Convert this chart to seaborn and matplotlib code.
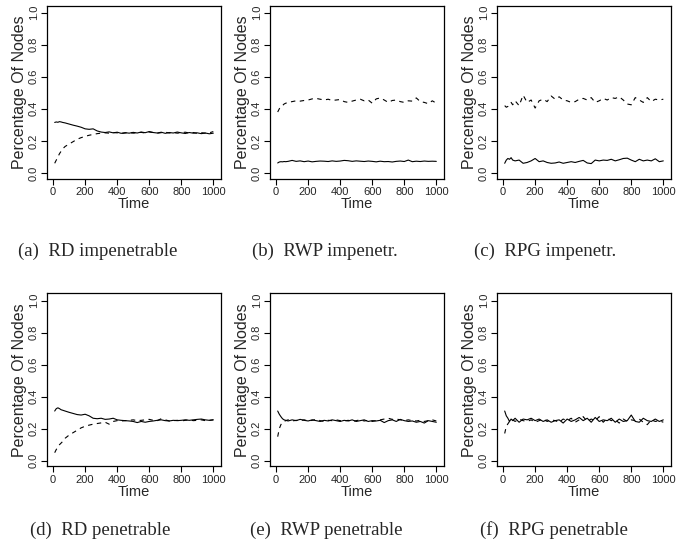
import matplotlib
matplotlib.use("Agg")
import matplotlib.pyplot as plt
import seaborn as sns

sns.set_style("ticks")
plt.rcParams["font.family"] = ["Liberation Sans", "DejaVu Sans"]

# time grid shared by all panels
TIME = [10, 20, 30, 40, 50, 60, 75, 100, 125, 150, 175, 200, 225, 250, 275, 300,
        325, 350, 375, 400, 425, 450, 475, 500, 525, 550, 575, 600, 625, 650, 675,
        700, 725, 750, 775, 800, 825, 850, 875, 900, 925, 950, 975, 1000]

# (a) RD impenetrable
a_solid = [0.315, 0.318, 0.316, 0.320, 0.318, 0.315, 0.312, 0.305, 0.298, 0.292, 0.285,
           0.275, 0.272, 0.275, 0.262, 0.255, 0.252, 0.256, 0.250, 0.254, 0.247, 0.251,
           0.248, 0.253, 0.249, 0.255, 0.251, 0.258, 0.252, 0.249, 0.254, 0.247, 0.252,
           0.249, 0.255, 0.250, 0.246, 0.252, 0.248, 0.250, 0.245, 0.249, 0.244, 0.248]
a_dashed = [0.060, 0.080, 0.100, 0.120, 0.135, 0.150, 0.165, 0.180, 0.195, 0.210, 0.220,
            0.228, 0.235, 0.240, 0.245, 0.248, 0.250, 0.248, 0.252, 0.250, 0.246, 0.249,
            0.252, 0.248, 0.251, 0.253, 0.249, 0.255, 0.252, 0.248, 0.251, 0.254, 0.249,
            0.252, 0.248, 0.251, 0.254, 0.249, 0.252, 0.247, 0.251, 0.248, 0.250, 0.258]

# (b) RWP impenetr.
b_solid = [0.062, 0.068, 0.070, 0.069, 0.071, 0.070, 0.072, 0.078, 0.072, 0.075, 0.070,
           0.074, 0.069, 0.072, 0.074, 0.073, 0.071, 0.075, 0.072, 0.074, 0.078, 0.076,
           0.072, 0.075, 0.073, 0.071, 0.074, 0.072, 0.069, 0.073, 0.070, 0.071, 0.068,
           0.072, 0.074, 0.071, 0.080, 0.070, 0.073, 0.071, 0.074, 0.072, 0.073, 0.072]
b_dashed = [0.380, 0.400, 0.415, 0.420, 0.430, 0.435, 0.440, 0.445, 0.450, 0.448, 0.452,
            0.455, 0.462, 0.465, 0.460, 0.455, 0.460, 0.452, 0.455, 0.458, 0.445, 0.440,
            0.448, 0.455, 0.460, 0.450, 0.455, 0.435, 0.462, 0.468, 0.455, 0.440, 0.452,
            0.455, 0.445, 0.440, 0.450, 0.448, 0.468, 0.445, 0.440, 0.432, 0.450, 0.435]

# (c) RPG impenetr.
c_solid = [0.060, 0.080, 0.090, 0.085, 0.095, 0.080, 0.075, 0.080, 0.060, 0.065, 0.075,
           0.090, 0.070, 0.075, 0.065, 0.060, 0.062, 0.068, 0.060, 0.065, 0.070, 0.065,
           0.072, 0.078, 0.062, 0.058, 0.080, 0.075, 0.080, 0.078, 0.085, 0.075, 0.082,
           0.090, 0.092, 0.080, 0.070, 0.085, 0.075, 0.080, 0.075, 0.088, 0.070, 0.075]
c_dashed = [0.420, 0.410, 0.415, 0.430, 0.440, 0.425, 0.450, 0.420, 0.485, 0.440, 0.455,
            0.405, 0.450, 0.460, 0.445, 0.480, 0.460, 0.475, 0.455, 0.450, 0.440, 0.445,
            0.460, 0.465, 0.455, 0.470, 0.440, 0.450, 0.465, 0.455, 0.470, 0.465, 0.475,
            0.455, 0.430, 0.425, 0.470, 0.455, 0.440, 0.470, 0.445, 0.460, 0.455, 0.460]

# (d) RD penetrable
d_solid = [0.310, 0.325, 0.330, 0.325, 0.318, 0.315, 0.310, 0.302, 0.295, 0.288, 0.285,
           0.290, 0.280, 0.265, 0.262, 0.265, 0.258, 0.260, 0.265, 0.255, 0.252, 0.250,
           0.248, 0.245, 0.238, 0.245, 0.240, 0.245, 0.248, 0.252, 0.255, 0.250, 0.248,
           0.252, 0.250, 0.252, 0.255, 0.252, 0.255, 0.258, 0.260, 0.255, 0.252, 0.255]
d_dashed = [0.050, 0.070, 0.085, 0.100, 0.110, 0.120, 0.140, 0.160, 0.175, 0.190, 0.205,
            0.215, 0.222, 0.228, 0.232, 0.236, 0.240, 0.228, 0.245, 0.250, 0.248, 0.250,
            0.252, 0.255, 0.250, 0.252, 0.255, 0.258, 0.252, 0.250, 0.262, 0.255, 0.248,
            0.250, 0.252, 0.248, 0.252, 0.255, 0.250, 0.252, 0.255, 0.250, 0.252, 0.255]

# (e) RWP penetrable
e_solid = [0.310, 0.290, 0.275, 0.262, 0.255, 0.252, 0.248, 0.255, 0.250, 0.258, 0.252,
           0.248, 0.255, 0.250, 0.245, 0.252, 0.248, 0.255, 0.250, 0.245, 0.252, 0.248,
           0.255, 0.245, 0.250, 0.255, 0.245, 0.250, 0.248, 0.252, 0.238, 0.250, 0.255,
           0.245, 0.258, 0.250, 0.245, 0.248, 0.240, 0.245, 0.235, 0.250, 0.245, 0.240]
e_dashed = [0.150, 0.200, 0.225, 0.240, 0.245, 0.250, 0.255, 0.248, 0.252, 0.250, 0.255,
            0.248, 0.252, 0.258, 0.250, 0.245, 0.252, 0.250, 0.255, 0.250, 0.248, 0.252,
            0.245, 0.250, 0.255, 0.248, 0.252, 0.245, 0.250, 0.255, 0.260, 0.265, 0.258,
            0.260, 0.255, 0.250, 0.255, 0.250, 0.248, 0.252, 0.245, 0.250, 0.255, 0.248]

# (f) RPG penetrable
f_solid = [0.310, 0.280, 0.265, 0.245, 0.260, 0.250, 0.265, 0.240, 0.260, 0.255, 0.265,
           0.250, 0.260, 0.245, 0.255, 0.240, 0.250, 0.255, 0.235, 0.260, 0.245, 0.255,
           0.270, 0.250, 0.265, 0.240, 0.270, 0.245, 0.255, 0.250, 0.265, 0.240, 0.260,
           0.245, 0.250, 0.285, 0.245, 0.240, 0.265, 0.250, 0.245, 0.260, 0.245, 0.255]
f_dashed = [0.170, 0.215, 0.230, 0.245, 0.240, 0.255, 0.245, 0.260, 0.250, 0.245, 0.255,
            0.240, 0.250, 0.260, 0.245, 0.255, 0.250, 0.240, 0.260, 0.250, 0.265, 0.240,
            0.255, 0.275, 0.245, 0.260, 0.250, 0.275, 0.240, 0.265, 0.250, 0.255, 0.235,
            0.260, 0.245, 0.255, 0.250, 0.260, 0.240, 0.225, 0.255, 0.245, 0.250, 0.240]

panels = [
    ("(a)  RD impenetrable", a_solid, a_dashed),
    ("(b)  RWP impenetr.", b_solid, b_dashed),
    ("(c)  RPG impenetr.", c_solid, c_dashed),
    ("(d)  RD penetrable", d_solid, d_dashed),
    ("(e)  RWP penetrable", e_solid, e_dashed),
    ("(f)  RPG penetrable", f_solid, f_dashed),
]

W, H = 691, 557
fig = plt.figure(figsize=(W / 100, H / 100), dpi=100)

lefts = [47, 270, 497]
tops = [5.5, 293.3]
box_w, box_h = 174, 173
# left edge of each caption (pixels)
cap_x = [[18, 252, 474], [30, 250, 480]]
cap_y = [251, 530]

for i, (caption, solid, dashed) in enumerate(panels):
    row, col = divmod(i, 3)
    left, top = lefts[col], tops[row]
    ax = fig.add_axes([left / W, (H - top - box_h) / H, box_w / W, box_h / H])
    sns.lineplot(x=TIME, y=solid, ax=ax, color="black", lw=0.8)
    sns.lineplot(x=TIME, y=dashed, ax=ax, color="black", lw=0.8, linestyle=(0, (4, 4)))
    ax.set_xlim(-38, 1048)
    ax.set_ylim(-0.035, 1.045)
    ax.set_xticks([0, 200, 400, 600, 800, 1000])
    ax.set_yticks([0, 0.2, 0.4, 0.6, 0.8, 1.0])
    ax.set_yticklabels(["0.0", "0.2", "0.4", "0.6", "0.8", "1.0"], rotation=90, va="center")
    ax.tick_params(length=4, width=0.8, labelsize=8, pad=2, color="black")
    ax.set_xlabel("Time", fontsize=10.5, labelpad=0)
    ax.set_ylabel("Percentage Of Nodes", fontsize=11.5, labelpad=1)
    for s in ax.spines.values():
        s.set_linewidth(0.9)
        s.set_color("black")
    fig.text(cap_x[row][col] / W, 1 - cap_y[row] / H, caption, ha="left", va="center",
             fontsize=13.5, family=["Liberation Serif", "DejaVu Serif"])

fig.savefig("out.png", dpi=100)
